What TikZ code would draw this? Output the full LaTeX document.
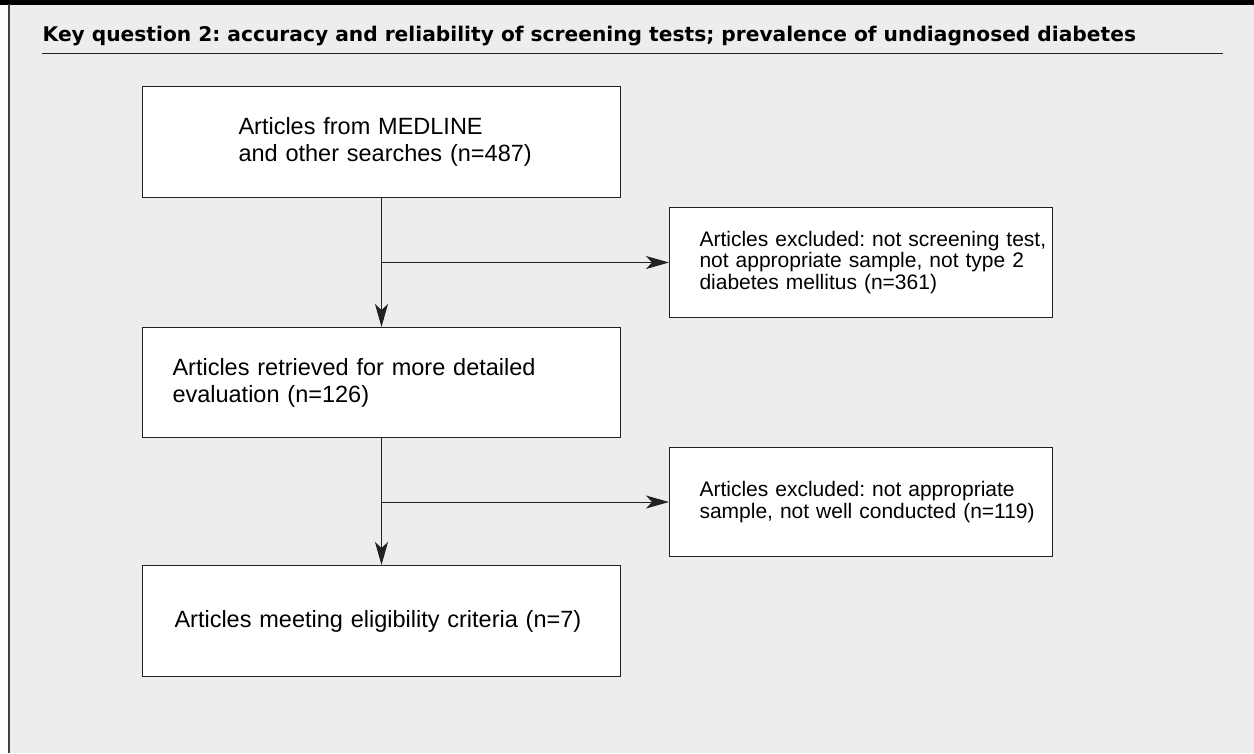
\documentclass[tikz,border=0pt]{standalone}
\usepackage{fontspec}
\setmainfont{Liberation Sans}
\newfontfamily\titlefam{DejaVu Sans}
\usetikzlibrary{arrows.meta}
\definecolor{bgc}{HTML}{EDEDED}
\definecolor{lnc}{HTML}{222222}
\newcommand{\bodyfont}{\fontsize{23.5}{27}\selectfont}
\newcommand{\rightfont}{\fontsize{21}{21.5}\selectfont}
\newcommand{\titlefont}{\titlefam\fontsize{20.2}{24}\selectfont\bfseries}
\frenchspacing
\begin{document}
\begin{tikzpicture}[x=1pt,y=-1pt,
  box/.style={draw=lnc, fill=white, line width=1pt, anchor=north west, align=left, inner ysep=0pt},
  conn/.style={draw=lnc, line width=1pt, -{Stealth[length=23pt,width=13pt,inset=6pt]}},
  rule/.style={draw=lnc, line width=1pt}]
\useasboundingbox (0,0) rectangle (1254,753);
\fill[bgc] (9,4) rectangle (1254,753);
\fill[black] (0,0) rectangle (1254,4.5);
\draw[line width=1.3pt, draw=black!75] (9,4) -- (9,753);
\node[anchor=base west, font=\titlefont, inner sep=0pt] (title) at (42.5,41)
  {Key question 2: accuracy and reliability of screening tests; prevalence of undiagnosed diabetes};
\coordinate (ruleL) at (42,53.5);
\coordinate (ruleR) at (1223,53.5);
\draw[rule] (ruleL) -- (ruleR);
\node[box, font=\bodyfont, inner xsep=96pt, text width=286pt, minimum height=111pt] (b1) at (142,86)
  {\mbox{Articles from MEDLINE}\\\mbox{and other searches (n=487)}};
\node[box, font=\bodyfont, inner xsep=30pt, text width=418pt, minimum height=110pt] (b2) at (142,327)
  {\mbox{Articles retrieved for more detailed}\\\mbox{evaluation (n=126)}};
\node[box, font=\bodyfont, inner xsep=32pt, text width=414pt, minimum height=111pt] (b3) at (142,565)
  {\mbox{Articles meeting eligibility criteria (n=7)}};
\node[box, font=\rightfont, inner xsep=30pt, text width=323pt, minimum height=110pt] (r1) at (669,207)
  {\mbox{Articles excluded: not screening test,}\\\mbox{not appropriate sample, not type 2}\\\mbox{diabetes mellitus (n=361)}};
\node[box, font=\rightfont, inner xsep=30pt, text width=323pt, minimum height=109pt] (r2) at (669,447)
  {\mbox{Articles excluded: not appropriate}\\\mbox{sample, not well conducted (n=119)}};
\draw[conn] (b1.south) -- (b2.north);
\draw[conn] (b1.south |- r1.west) -- (r1.west);
\draw[conn] (b2.south) -- (b3.north);
\draw[conn] (b2.south |- r2.west) -- (r2.west);
\end{tikzpicture}
\end{document}
